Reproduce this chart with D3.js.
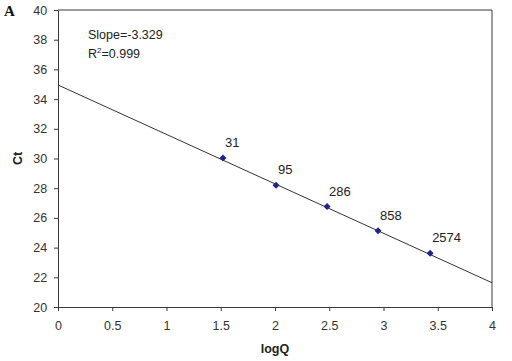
<!DOCTYPE html>
<html>
<head>
<meta charset="utf-8">
<script src="https://cdn.jsdelivr.net/npm/d3@7"></script>
<style>
  body { margin: 0; background: #fff; }
  svg { font-family: "Liberation Sans", Arial, sans-serif; }
</style>
</head>
<body>
<svg id="chart" width="512" height="361"></svg>
<script>
// Standard curve data
const logQ = [1.52, 2.01, 2.48, 2.95, 3.43]
const ct = [30.03, 28.2, 26.76, 25.14, 23.62]
const pointLabels = ["31", "95", "286", "858", "2574"]
const xTicks = [0, 0.5, 1, 1.5, 2, 2.5, 3, 3.5, 4]
const yTicks = [20, 22, 24, 26, 28, 30, 32, 34, 36, 38, 40]
const fitSlope = -3.329
const fitIntercept = 34.95

const margin = {top: 10, right: 20, bottom: 54, left: 58}
const width = 512 - margin.left - margin.right
const height = 361 - margin.top - margin.bottom

const svg = d3.select("#chart")
const g = svg.append("g").attr("transform", `translate(${margin.left}, ${margin.top})`)

const x = d3.scaleLinear().domain([0, 4]).range([0, width])
const y = d3.scaleLinear().domain([20, 40]).range([height, 0])

// cadre (haut et droite)
g.append("path")
 .attr("d", `M0,0H${width}V${height}`)
 .attr("fill", "none")
 .attr("stroke", "#3a3a3a")
 .attr("stroke-width", 1)

// axes
const xAxis = g.append("g")
  .attr("transform", `translate(0, ${height})`)
  .call(d3.axisBottom(x).tickValues(xTicks).tickSize(4).tickSizeOuter(0).tickFormat(d3.format("")))
const yAxis = g.append("g")
  .call(d3.axisLeft(y).tickValues(yTicks).tickSize(4).tickSizeOuter(0))

for (const ax of [xAxis, yAxis]) {
    ax.select(".domain").attr("stroke", "#3a3a3a")
    ax.selectAll(".tick line").attr("stroke", "#3a3a3a")
    ax.selectAll(".tick text").attr("fill", "#333").attr("font-size", 12.5)
}
xAxis.selectAll(".tick text").attr("dy", "1.3em")
yAxis.selectAll(".tick text").attr("dx", "-0.3em")

// droite de regression
g.append("line")
 .attr("x1", x(0)).attr("y1", y(fitIntercept))
 .attr("x2", x(4)).attr("y2", y(fitIntercept + fitSlope * 4))
 .attr("stroke", "#333")
 .attr("stroke-width", 1)

// points
const data = logQ.map((v, i) => ({x: v, y: ct[i], label: pointLabels[i]}))
g.selectAll(".pt")
 .data(data)
 .join("path")
 .attr("class", "pt")
 .attr("transform", d => `translate(${x(d.x)}, ${y(d.y)})`)
 .attr("d", "M0,-3.5L3.5,0L0,3.5L-3.5,0Z")
 .attr("fill", "#22228a")

g.selectAll(".pt-label")
 .data(data)
 .join("text")
 .attr("class", "pt-label")
 .attr("x", d => x(d.x) + 2)
 .attr("y", d => y(d.y) - 11)
 .attr("font-size", 13)
 .attr("fill", "#222")
 .text(d => d.label)

// annotations
g.append("text").attr("x", 30).attr("y", 29).attr("font-size", 12.5).attr("fill", "#222").text("Slope=-3.329")
const r2 = g.append("text").attr("x", 30).attr("y", 48).attr("font-size", 12.5).attr("fill", "#222")
r2.append("tspan").text("R")
r2.append("tspan").attr("font-size", 8).attr("dy", -5).text("2")
r2.append("tspan").attr("dy", 5).text("=0.999")

// titres des axes
svg.append("text")
   .attr("text-anchor", "middle")
   .attr("x", margin.left + width / 2)
   .attr("y", 353)
   .attr("font-size", 12.5)
   .attr("font-weight", "bold")
   .attr("fill", "#222")
   .text("logQ")

svg.append("text")
   .attr("text-anchor", "middle")
   .attr("transform", "rotate(-90)")
   .attr("x", -(margin.top + height / 2))
   .attr("y", 22)
   .attr("font-size", 12.5)
   .attr("font-weight", "bold")
   .attr("fill", "#222")
   .text("Ct")

// lettre du panneau
svg.append("text")
   .attr("x", 4)
   .attr("y", 16)
   .attr("font-family", "'Liberation Serif', 'DejaVu Serif', serif")
   .attr("font-size", 15)
   .attr("font-weight", "bold")
   .attr("fill", "#111")
   .text("A")
</script>
</body>
</html>
